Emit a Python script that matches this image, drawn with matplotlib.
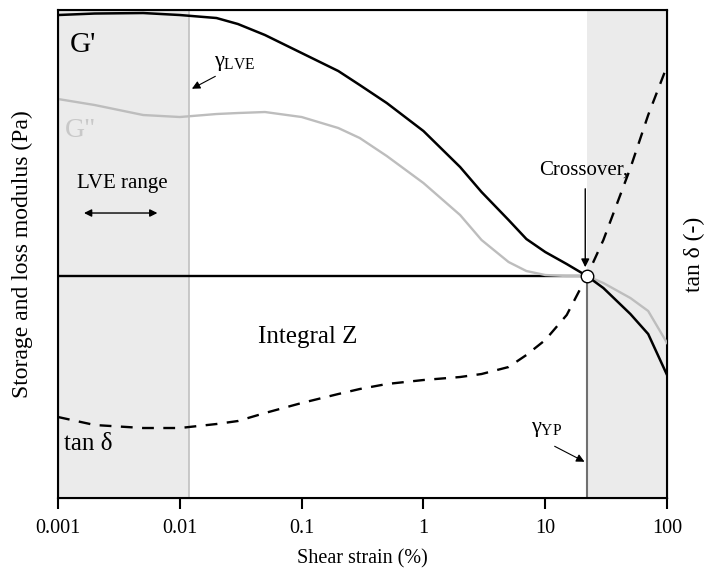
import numpy as np
import matplotlib
matplotlib.use("Agg")
import matplotlib.pyplot as plt

plt.rcParams['font.family'] = ['Liberation Serif', 'DejaVu Serif']
plt.rcParams['mathtext.fontset'] = 'custom'
plt.rcParams['mathtext.rm'] = 'Liberation Serif'
plt.rcParams['mathtext.it'] = 'Liberation Serif'

# shear strain (%) and relative curve heights (arbitrary units, no y scale shown)
strain = [0.001, 0.002, 0.005, 0.01, 0.02, 0.03, 0.05, 0.1, 0.2, 0.3, 0.5, 1,
          2, 3, 5, 7, 10, 15, 22, 30, 50, 70, 100]
g_storage = [483, 484.5, 485, 483, 480, 474, 463, 445, 427, 413, 395, 367,
             331, 306, 278, 259, 246, 234, 222, 210, 184, 164, 123]
g_loss = [399, 393, 383, 381, 384, 385, 386, 381, 370, 360, 342, 315,
          283, 258, 236, 227, 223, 222, 222, 215, 200, 187, 155]
tan_delta = [81, 73, 70, 70, 74, 77, 85, 95, 104, 109, 114, 118,
             121, 124, 131, 143, 158, 183, 222, 258, 330, 383, 432]

gamma_lve = 0.012
gamma_yp = 22
crossover_level = 222

fig = plt.figure(figsize=(7.11, 5.76), dpi=100)
ax = fig.add_axes([0.0816, 0.1354, 0.8566, 0.8472])
ax.set_xscale('log')
ax.set_xlim(0.001, 100)
ax.set_ylim(0, 488)

# shaded LVE range and post-yield zone
ax.axvspan(0.001, gamma_lve, color='#ebebeb', zorder=0, lw=0)
ax.axvspan(gamma_yp, 100, color='#ebebeb', zorder=0, lw=0)
ax.axvline(gamma_lve, color='#c0c0c0', lw=1.2, zorder=1)
ax.plot([gamma_yp, gamma_yp], [0, crossover_level], color='#707070', lw=1.5, zorder=1)

ax.plot([0.001, gamma_yp], [crossover_level, crossover_level], color='black', lw=1.7, zorder=2)

ax.plot(strain, g_loss, color='#bdbdbd', lw=1.7, zorder=3)
ax.plot(strain, g_storage, color='black', lw=1.8, zorder=4)
ax.plot(strain, tan_delta, color='black', lw=1.7, ls=(0, (5, 4)), zorder=4)
ax.plot([gamma_yp], [crossover_level], 'o', ms=9, mfc='white', mec='black', mew=1.0, zorder=6)

# labels inside the plot
ax.text(0.00124, 453, "G'", fontsize=21, ha='left', va='center')
ax.text(0.00113, 368, 'G"', fontsize=20, color='#c8c8c8', ha='left', va='center')
ax.text(0.00113, 54, "tan δ", fontsize=18, ha='left', va='center')
ax.text(0.113, 161, "Integral Z", fontsize=18, ha='center', va='center')
ax.text(0.00336, 315, "LVE range", fontsize=15, ha='center', va='center')
ax.annotate('', xy=(0.00155, 285), xytext=(0.0069, 285),
            arrowprops=dict(arrowstyle='<|-|>', color='black', lw=1.0, mutation_scale=11))
ax.text(20.8, 328, "Crossover,", fontsize=15, ha='center', va='center')
ax.annotate('', xy=(21.3, 228), xytext=(21.3, 312),
            arrowprops=dict(arrowstyle='-|>', color='black', lw=1.0, mutation_scale=12))

ax.text(0.0192, 435, r"$\gamma_{\mathrm{LVE}}$", fontsize=16, ha='left', va='center')
ax.annotate('', xy=(gamma_lve, 408), xytext=(0.0205, 423),
            arrowprops=dict(arrowstyle='-|>', color='black', lw=0.8, mutation_scale=12))
ax.text(7.6, 69, r"$\gamma_{\mathrm{YP}}$", fontsize=16, ha='left', va='center')
ax.annotate('', xy=(gamma_yp, 35), xytext=(11.4, 53),
            arrowprops=dict(arrowstyle='-|>', color='black', lw=0.8, mutation_scale=12))

ax.set_xticks([0.001, 0.01, 0.1, 1, 10, 100])
ax.set_xticklabels(['0.001', '0.01', '0.1', '1', '10', '100'])
ax.xaxis.set_minor_locator(matplotlib.ticker.NullLocator())
ax.tick_params(axis='x', direction='out', length=8, width=1.5, labelsize=14.5, pad=7)
ax.set_yticks([])
for s in ax.spines.values():
    s.set_linewidth(1.5)

ax.set_xlabel('Shear strain (%)', fontsize=14.5, labelpad=8)
ax.set_ylabel('Storage and loss modulus (Pa)', fontsize=17, labelpad=18)

ax2 = ax.twinx()
ax2.set_ylim(0, 488)
ax2.set_yticks([])
ax2.set_ylabel('tan δ (-)', fontsize=17, labelpad=12)

fig.savefig('out.png', dpi=100)
